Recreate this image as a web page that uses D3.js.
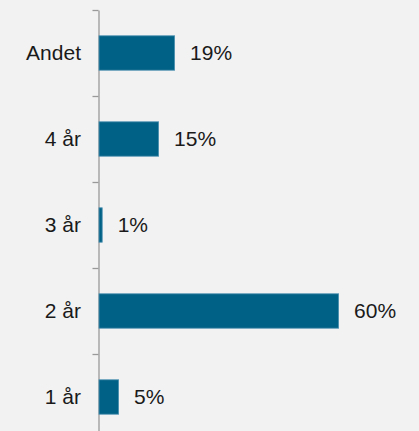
<!DOCTYPE html>
<html>
<head>
<meta charset="utf-8">
<script src="https://cdn.jsdelivr.net/npm/d3@7.9.0/dist/d3.min.js"></script>
<style>
  html, body { margin: 0; padding: 0; background: #f2f2f2; }
  svg { display: block; font-family: "Liberation Sans", Arial, sans-serif; }
</style>
</head>
<body>
<svg width="419" height="431"></svg>
<script>
// data, top to bottom
const categories = ['Andet', '4 år', '3 år', '2 år', '1 år'];
const shares = [18.9, 14.9, 0.8, 59.9, 4.9];

const svg = d3.select('svg');
const x0 = 98.5;

// band scale for the categories
let y = d3.scaleBand()
    .domain(categories)
    .range([10, 440])
    .paddingInner(0.6)
    .paddingOuter(0.3);

let x = d3.scaleLinear()
    .domain([0, 60])
    .range([x0, x0 + 240]);

// axis with ticks on band boundaries
let boundary = d3.scaleLinear()
    .domain([0, categories.length])
    .range([10, 440]);

svg.append('g')
    .attr('transform', `translate(${x0},0)`)
    .call(d3.axisLeft(boundary)
        .tickValues(d3.range(categories.length + 1))
        .tickFormat('')
        .tickSize(6)
        .tickSizeOuter(0))
    .call(g => g.selectAll('line, path').attr('stroke', '#999').attr('stroke-width', 1.3));

// bars
svg.append('g')
    .selectAll('rect')
    .data(categories)
    .join('rect')
    .attr('x', x(0) + 0.5)
    .attr('y', d => y(d))
    .attr('width', (d, i) => x(shares[i]) - x(0))
    .attr('height', y.bandwidth())
    .attr('fill', '#006186')
    .attr('stroke', '#4b90b1')
    .attr('stroke-width', 0.8);

// category labels
svg.append('g')
    .selectAll('text')
    .data(categories)
    .join('text')
    .attr('x', 81)
    .attr('y', d => y(d) + y.bandwidth() / 2)
    .attr('dy', '0.35em')
    .attr('text-anchor', 'end')
    .attr('font-size', 21)
    .attr('fill', '#1a1a1a')
    .text(d => d);

// value labels
svg.append('g')
    .selectAll('text')
    .data(categories)
    .join('text')
    .attr('x', (d, i) => x(shares[i]) + 16)
    .attr('y', d => y(d) + y.bandwidth() / 2)
    .attr('dy', '0.35em')
    .attr('font-size', 21)
    .attr('fill', '#1a1a1a')
    .text((d, i) => `${Math.round(shares[i])}%`);
</script>
</body>
</html>
